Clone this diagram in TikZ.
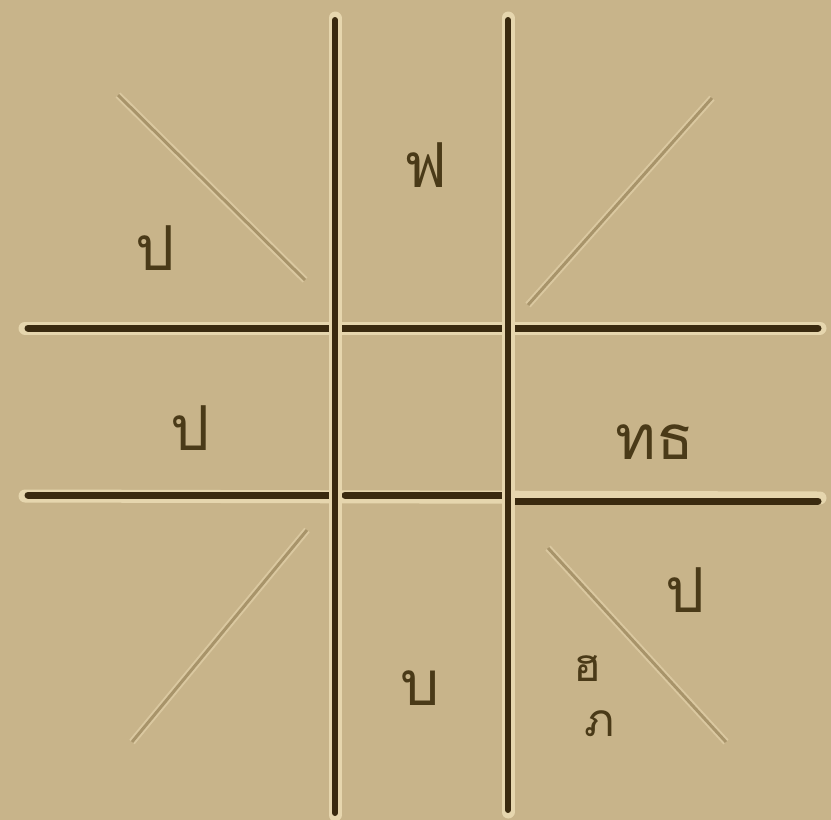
\documentclass[tikz,border=0pt]{standalone}
\usepackage{fontspec}
\newfontfamily\thaifont[Script=Thai]{Loma}
\definecolor{bg}{HTML}{C8B48A}
\definecolor{ink}{HTML}{3A2A10}
\definecolor{halo}{HTML}{E6D6AE}
\definecolor{diag}{HTML}{A8946A}
\definecolor{glyph}{HTML}{4A3A18}
\tikzset{
  barline/.style={line width=7pt, draw=ink, line cap=round},
  barhalo/.style={line width=13pt, draw=halo, line cap=round},
  diagline/.style={line width=3pt, draw=diag},
  diaghalo/.style={line width=7pt, draw=halo!60!bg},
  glyphtext/.style={text=glyph, font=\thaifont\fontsize{62}{64}\selectfont, inner sep=1pt},
  smallglyph/.style={glyphtext, font=\thaifont\fontsize{46}{48}\selectfont, inner sep=0pt}
}
\begin{document}
\begin{tikzpicture}[x=1pt,y=-1pt]
\fill[bg] (0,0) rectangle (831,820);
\useasboundingbox (0,0) rectangle (831,820);
% diagonals
\foreach \a/\b in {{(118,95)}/{(305,280)}, {(712,98)}/{(528,305)}, {(307,530)}/{(132,742)}, {(548,548)}/{(726,742)}}{
  \draw[diaghalo] \a -- \b;
  \draw[diagline] \a -- \b;
}
% horizontal bars
\draw[barhalo] (25,328) -- (820,328);
\draw[barhalo] (25,496) -- (820,498);
\draw[barline] (28,328) -- (818,328);
\draw[barline] (28,495) -- (330,495);
\draw[barline] (345,495) -- (505,495);
\draw[barline] (515,501) -- (818,501);
% vertical bars
\draw[barhalo] (335,18) -- (335,815);
\draw[barhalo] (508,18) -- (508,812);
\draw[barline, line width=6pt] (335,20) -- (335,813);
\draw[barline, line width=6pt] (508,20) -- (508,810);
% glyphs
\node[glyphtext] (tl) at (155,248) {ป};
\node[glyphtext] (tc) at (425,165) {ฟ};
\node[glyphtext] (ml) at (190,428) {ป};
\node[glyphtext] (mr) at (655,442) {ทธ};
\node[glyphtext] (br) at (685,590) {ป};
\node[glyphtext] (bc) at (420,688) {บ};
\node[smallglyph] (bra) at (588,668) {ฮ};
\node[smallglyph] (brb) at (600,724) {ภ};
\end{tikzpicture}
\end{document}
